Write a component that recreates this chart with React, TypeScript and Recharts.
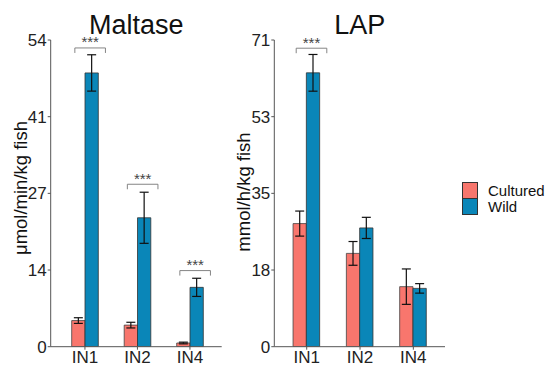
import React from 'react';
import { BarChart, Bar, XAxis, YAxis, ErrorBar, LabelList, Legend } from 'recharts';

const categories = ['IN1', 'IN2', 'IN4'];

const maltaseCultured = [4.6, 3.8, 0.65];
const maltaseCulturedErr = [0.5, 0.5, 0.15];
const maltaseWild = [48.2, 22.7, 10.45];
const maltaseWildErr = [3.2, 4.5, 1.6];
const maltaseSig = ['***', '***', '***'];
const maltaseBracket = [52.6, 28.6, 13.4];
const maltaseTicks = [0, 13.5, 27, 40.5, 54];
const maltaseTickLabels = ['0', '14', '27', '41', '54'];

const lapCultured = [28.5, 21.6, 13.9];
const lapCulturedErr = [2.9, 2.75, 4.1];
const lapWild = [63.4, 27.5, 13.5];
const lapWildErr = [4.25, 2.45, 1.1];
const lapSig = ['***', '', ''];
const lapBracket = [69.1, 0, 0];
const lapTicks = [0, 17.75, 35.5, 53.25, 71];
const lapTickLabels = ['0', '18', '35', '53', '71'];

const CULTURED = '#F8766D';
const WILD = '#0A86B8';
const FONT = '"Liberation Sans", Arial, sans-serif';

const buildRows = (c: number[], ce: number[], w: number[], we: number[]) =>
  categories.map((cat, i) => ({ cat, cultured: c[i], cErr: ce[i], wild: w[i], wErr: we[i] }));

const maltaseRows = buildRows(maltaseCultured, maltaseCulturedErr, maltaseWild, maltaseWildErr);
const lapRows = buildRows(lapCultured, lapCulturedErr, lapWild, lapWildErr);

// Significance bracket drawn above each Wild bar, positioned through the bar's own geometry.
const makeBracket = (sig: string[], level: number[]) => (props: any) => {
  const vb = props.viewBox || {};
  const x = props.x ?? vb.x;
  const y = props.y ?? vb.y;
  const width = props.width ?? vb.width;
  const height = props.height ?? vb.height;
  const value = Number(props.value);
  const index = props.index;
  if (index == null || !sig[index] || !value) return null;
  const base = y + height;
  const ppu = height / value;
  const by = base - level[index] * ppu;
  const cx = x + width / 2 - 1.5;
  const x1 = cx - 15.3;
  const x2 = cx + 15.3;
  return (
    <g>
      <path d={`M${x1},${by + 5} V${by} H${x2} V${by + 5}`} fill="none" stroke="#777" strokeWidth={0.9} />
      <text x={cx} y={by - 0.5} textAnchor="middle" fontSize={15} fill="#444" fontFamily={FONT}>
        {sig[index]}
      </text>
    </g>
  );
};

const LegendBox = (props: any) => {
  const items = (props.payload || []) as any[];
  return (
    <div style={{ fontFamily: FONT, fontSize: 15, color: '#111' }}>
      {items.map((it) => (
        <div key={it.value} style={{ display: 'flex', alignItems: 'center', height: 16 }}>
          <div
            style={{
              width: 14,
              height: 15,
              background: it.color,
              border: '0.8px solid #333',
              marginRight: 10,
            }}
          />
          <span>{it.value}</span>
        </div>
      ))}
    </div>
  );
};

type PanelProps = {
  rows: any[];
  ticks: number[];
  tickLabels: string[];
  max: number;
  sig: string[];
  level: number[];
  marginLeft: number;
  marginRight: number;
  yWidth: number;
  padding: { left: number; right: number };
  legend?: boolean;
};

const Panel = (p: PanelProps) => (
  <div style={{ position: 'absolute', left: 0, top: 0 }}>
    <BarChart
      width={546}
      height={366}
      data={p.rows}
      margin={{ top: 40, right: p.marginRight, bottom: 0, left: p.marginLeft }}
      barGap={0}
      barSize={13.3}
    >
      <XAxis
        dataKey="cat"
        height={19.3}
        padding={p.padding}
        tickSize={3}
        tickMargin={1.5}
        axisLine={{ stroke: '#555', strokeWidth: 1 }}
        tickLine={{ stroke: '#555' }}
        tick={{ fontSize: 17, fill: '#222', fontFamily: FONT }}
        interval={0}
      />
      <YAxis
        type="number"
        domain={[0, p.max]}
        ticks={p.ticks}
        width={p.yWidth}
        tickSize={3}
        tickMargin={1}
        allowDataOverflow
        axisLine={{ stroke: '#555', strokeWidth: 1 }}
        tickLine={{ stroke: '#555' }}
        tick={{ fontSize: 17, fill: '#222', fontFamily: FONT }}
        tickFormatter={(v: number) => p.tickLabels[p.ticks.indexOf(v)] ?? String(v)}
      />
      <Bar dataKey="cultured" name="Cultured" fill={CULTURED} stroke="#444" strokeWidth={0.8} isAnimationActive={false}>
        <ErrorBar dataKey="cErr" width={4.5} stroke="#111" strokeWidth={1.2} direction="y" />
      </Bar>
      <Bar dataKey="wild" name="Wild" fill={WILD} stroke="#333" strokeWidth={0.8} isAnimationActive={false}>
        <ErrorBar dataKey="wErr" width={4.5} stroke="#111" strokeWidth={1.2} direction="y" />
        <LabelList dataKey="wild" content={makeBracket(p.sig, p.level)} />
      </Bar>
      {p.legend && (
        <Legend
          layout="horizontal"
          verticalAlign="middle"
          align="center"
          wrapperStyle={{ position: 'absolute', left: 462, top: 182, width: 90, height: 34 }}
          content={LegendBox}
        />
      )}
    </BarChart>
  </div>
);

export default function App() {
  return (
    <div style={{ position: 'absolute', left: 0, top: 0, width: 546, height: 366, background: '#fff', overflow: 'hidden' }}>
      <Panel
        rows={maltaseRows}
        ticks={maltaseTicks}
        tickLabels={maltaseTickLabels}
        max={54}
        sig={maltaseSig}
        level={maltaseBracket}
        marginLeft={0}
        marginRight={546 - 221.7}
        yWidth={50.7}
        padding={{ left: 8, right: 5.5 }}
      />
      <Panel
        rows={lapRows}
        ticks={lapTicks}
        tickLabels={lapTickLabels}
        max={71}
        sig={lapSig}
        level={lapBracket}
        marginLeft={224.3}
        marginRight={546 - 445}
        yWidth={50}
        padding={{ left: 5.75, right: 5 }}
        legend
      />
      <svg width={546} height={366} style={{ position: 'absolute', left: 0, top: 0, pointerEvents: 'none' }}>
        <text x={136.2} y={33.5} textAnchor="middle" fontSize={27} fontFamily={FONT} fill="#111">Maltase</text>
        <text x={359.7} y={33.5} textAnchor="middle" fontSize={27} fontFamily={FONT} fill="#111">LAP</text>
        <text
          transform="translate(27,188) rotate(-90)"
          textAnchor="middle"
          fontSize={18.5}
          fontFamily={FONT}
          fill="#111"
        >
          μmol/min/kg fish
        </text>
        <text
          transform="translate(250,192) rotate(-90)"
          textAnchor="middle"
          fontSize={18.5}
          fontFamily={FONT}
          fill="#111"
        >
          mmol/h/kg fish
        </text>
      </svg>
    </div>
  );
}
